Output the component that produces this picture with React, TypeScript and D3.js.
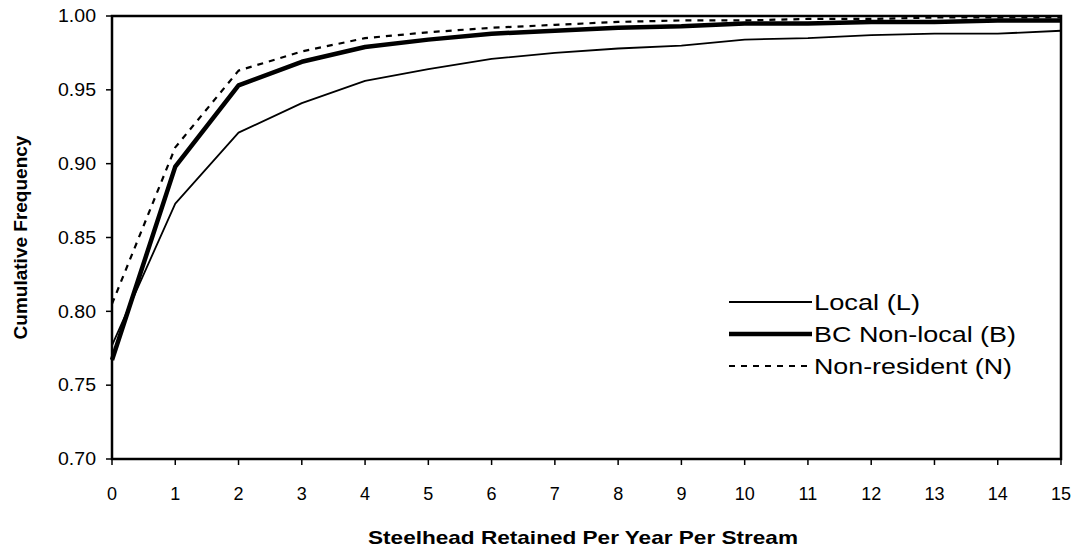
import React from "react";
import * as d3 from "d3";

const xTicks = [0, 1, 2, 3, 4, 5, 6, 7, 8, 9, 10, 11, 12, 13, 14, 15];
const yTicks = [0.7, 0.75, 0.8, 0.85, 0.9, 0.95, 1.0];

const localValues = [0.777, 0.873, 0.921, 0.941, 0.956, 0.964, 0.971, 0.975, 0.978, 0.980, 0.984, 0.985, 0.987, 0.988, 0.988, 0.990];
const bcNonLocalValues = [0.767, 0.898, 0.953, 0.969, 0.979, 0.984, 0.988, 0.990, 0.992, 0.993, 0.995, 0.995, 0.996, 0.996, 0.997, 0.997];
const nonResidentValues = [0.805, 0.911, 0.963, 0.976, 0.985, 0.989, 0.992, 0.994, 0.996, 0.997, 0.997, 0.998, 0.998, 0.999, 0.999, 0.999];

const seriesNames = ["Local (L)", "BC Non-local (B)", "Non-resident (N)"];

const W = 1077;
const H = 550;
const left = 112;
const right = 1061;
const top = 16;
const bottom = 459;

export default function App() {
  const x = d3.scaleLinear().domain([0, 15]).range([left, right]);
  const y = d3.scaleLinear().domain([0.7, 1.0]).range([bottom, top]);
  const line = d3
    .line<number>()
    .x((_, i) => x(xTicks[i]))
    .y((d) => y(d));

  const series = [
    { name: seriesNames[0], values: localValues, width: 1.8, dash: undefined as string | undefined, len: 106 },
    { name: seriesNames[1], values: bcNonLocalValues, width: 4.5, dash: undefined as string | undefined, len: 202 },
    { name: seriesNames[2], values: nonResidentValues, width: 2.2, dash: "6,6", len: 198 },
  ];

  const font = "Liberation Sans, Arial, sans-serif";
  const legendY = [302, 334, 366];

  return (
    <svg
      width={W}
      height={H}
      style={{ position: "absolute", left: 0, top: 0, background: "#fff" }}
      fontFamily={font}
    >
      <rect x={0} y={0} width={W} height={H} fill="#fff" />
      <rect x={left} y={top} width={right - left} height={bottom - top} fill="none" stroke="#000" strokeWidth={2.5} />
      {yTicks.map((t) => (
        <g key={"y" + t}>
          <line x1={left - 6} x2={left} y1={y(t)} y2={y(t)} stroke="#000" strokeWidth={1.5} />
          <text
            x={left - 16}
            y={y(t)}
            dy="0.35em"
            textAnchor="end"
            fontSize={18}
            fill="#000"
            textLength={38}
            lengthAdjust="spacingAndGlyphs"
          >
            {t.toFixed(2)}
          </text>
        </g>
      ))}
      {xTicks.map((t) => (
        <g key={"x" + t}>
          <line x1={x(t)} x2={x(t)} y1={bottom} y2={bottom + 6} stroke="#000" strokeWidth={1.5} />
          <text x={x(t)} y={494} dy="0.35em" textAnchor="middle" fontSize={18} fill="#000">
            {t}
          </text>
        </g>
      ))}
      {series.map((s) => (
        <path
          key={s.name}
          d={line(s.values) || ""}
          fill="none"
          stroke="#000"
          strokeWidth={s.width}
          strokeDasharray={s.dash}
          strokeLinejoin="round"
        />
      ))}
      {series.map((s, i) => (
        <g key={"lg" + s.name}>
          <line x1={729} x2={812} y1={legendY[i]} y2={legendY[i]} stroke="#000" strokeWidth={s.width} strokeDasharray={s.dash} />
          <text
            x={814}
            y={legendY[i]}
            dy="0.35em"
            fontSize={22}
            fill="#000"
            textLength={s.len}
            lengthAdjust="spacingAndGlyphs"
          >
            {s.name}
          </text>
        </g>
      ))}
      <text
        x={583}
        y={537}
        dy="0.35em"
        textAnchor="middle"
        fontSize={19}
        fontWeight="bold"
        fill="#000"
        textLength={430}
        lengthAdjust="spacingAndGlyphs"
      >
        Steelhead Retained Per Year Per Stream
      </text>
      <text
        transform={`translate(20,${(top + bottom) / 2}) rotate(-90)`}
        textAnchor="middle"
        dy="0.35em"
        fontSize={19}
        fontWeight="bold"
        fill="#000"
      >
        Cumulative Frequency
      </text>
    </svg>
  );
}
